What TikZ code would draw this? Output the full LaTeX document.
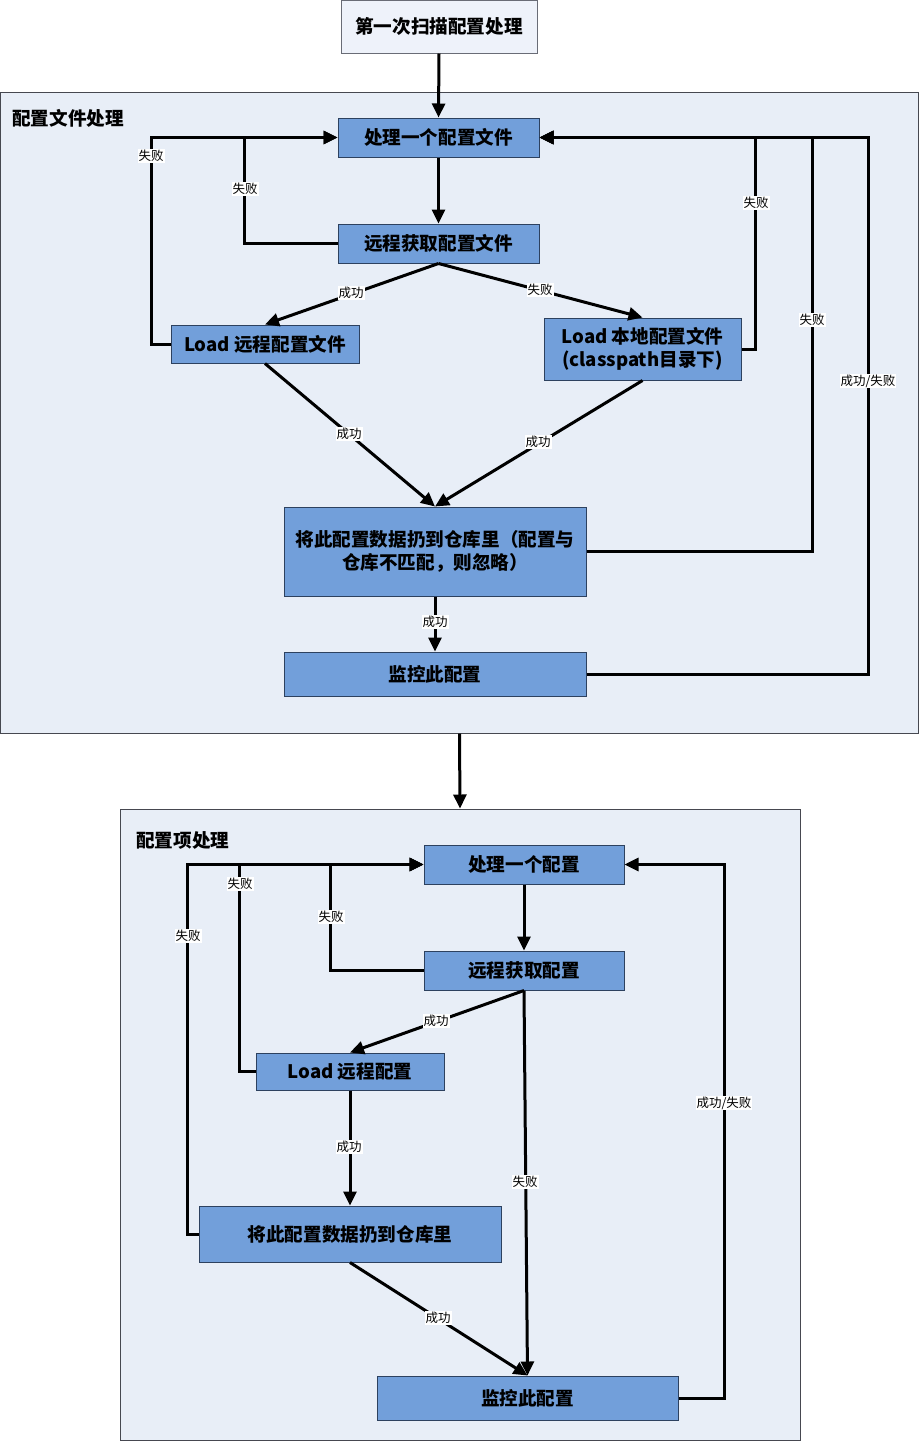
\documentclass[tikz,border=0pt]{standalone}
\usepackage{fontspec}
\setmainfont{Noto Sans CJK SC}
\usetikzlibrary{arrows.meta}
\definecolor{boxfill}{RGB}{114,159,218}
\definecolor{boxborder}{RGB}{45,65,95}
\definecolor{regionfill}{RGB}{232,238,247}
\definecolor{regionborder}{RGB}{70,72,80}
\definecolor{topfill}{RGB}{238,242,250}
\definecolor{topborder}{RGB}{105,108,118}
\tikzset{
  region/.style={draw=regionborder, fill=regionfill, line width=1pt, inner sep=0pt},
  stepbox/.style={draw=boxborder, fill=boxfill, line width=1pt, inner sep=0pt, align=center,
    font=\bfseries\fontsize{18.6}{23}\selectfont},
  topbox/.style={stepbox, draw=topborder, fill=topfill},
  ttl/.style={anchor=west, inner sep=0pt, font=\bfseries\fontsize{18.6}{22}\selectfont},
  lbl/.style={fill=white, inner sep=1pt, font=\fontsize{12.5}{14}\selectfont},
  ln/.style={line width=3pt},
  arr/.style={line width=3pt, -{Triangle[length=14pt,width=13pt]}}
}
\begin{document}
\begin{tikzpicture}[x=1pt,y=-1pt]
\useasboundingbox (0,0) rectangle (919,1441);
% regions
\node[region, minimum width=918pt, minimum height=641pt] (R1) at (459.5,412.5) {};
\node[region, minimum width=680pt, minimum height=631pt] (R2) at (460,1124.5) {};
\node[ttl] (t1) at (12,118) {配置文件处理};
\node[ttl] (t2) at (136,840) {配置项处理};
% top
\node[topbox, minimum width=196pt, minimum height=53pt] (top) at (439,26.5) {第一次扫描配置处理};
% section 1 boxes
\node[stepbox, minimum width=201pt, minimum height=39pt] (p1) at (438.5,137.5) {处理一个配置文件};
\node[stepbox, minimum width=201pt, minimum height=39pt] (r1) at (438.5,243.5) {远程获取配置文件};
\node[stepbox, minimum width=188pt, minimum height=38pt] (lr1) at (265,344) {Load 远程配置文件};
\node[stepbox, minimum width=197pt, minimum height=62pt] (ll1) at (642.5,349) {Load 本地配置文件\\(classpath目录下)};
\node[stepbox, minimum width=302pt, minimum height=89pt] (w1) at (435,551.5) {将此配置数据扔到仓库里（配置与\\仓库不匹配，则忽略）};
\node[stepbox, minimum width=302pt, minimum height=44pt] (m1) at (435,674) {监控此配置};
% section 2 boxes
\node[stepbox, minimum width=200pt, minimum height=39pt] (p2) at (524,864.5) {处理一个配置};
\node[stepbox, minimum width=200pt, minimum height=39pt] (r2) at (524,970.5) {远程获取配置};
\node[stepbox, minimum width=188pt, minimum height=37pt] (lr2) at (350,1071.5) {Load 远程配置};
\node[stepbox, minimum width=302pt, minimum height=56pt] (w2) at (350,1234) {将此配置数据扔到仓库里};
\node[stepbox, minimum width=301pt, minimum height=44pt] (m2) at (527.5,1398) {监控此配置};
% connectors section 1
\draw[arr] (top.south) -- (p1.north);
\draw[arr] (p1.south) -- (r1.north);
\draw[arr] (r1.west) -- ++(-93,0) |- (p1.west);
\draw[arr] (lr1.west) -- ++(-19,0) |- (p1.west);
\draw[arr] (r1.south) -- (lr1.north);
\draw[arr] (r1.south) -- (ll1.north);
\draw[arr] (ll1.east) -- ++(14,0) |- (p1.east);
\draw[arr] (lr1.south) -- (w1.north);
\draw[arr] (ll1.south) -- (w1.north);
\draw[arr] (w1.east) -- ++(226,0) |- (p1.east);
\draw[arr] (w1.south) -- (m1.north);
\draw[arr] (m1.east) -- ++(282,0) |- (p1.east);
\node[lbl] (l1) at (151,156) {失败};
\node[lbl] (l2) at (245,189) {失败};
\node[lbl] (l3) at (351,293) {成功};
\node[lbl] (l4) at (540,290) {失败};
\node[lbl] (l5) at (756,203) {失败};
\node[lbl] (l6) at (812,320) {失败};
\node[lbl] (l7) at (868,381) {成功/失败};
\node[lbl] (l8) at (349,434) {成功};
\node[lbl] (l9) at (538,442) {成功};
\node[lbl] (l10) at (435,622) {成功};
% between regions
\draw[arr] (R1.south) -- (R2.north);
% connectors section 2
\draw[arr] (p2.south) -- (r2.north);
\draw[arr] (r2.west) -- ++(-93,0) |- (p2.west);
\draw[arr] (lr2.west) -- ++(-16,0) |- (p2.west);
\draw[arr] (w2.west) -- ++(-11,0) |- (p2.west);
\draw[arr] (r2.south) -- (lr2.north);
\draw[arr] (r2.south) -- (m2.north);
\draw[arr] (lr2.south) -- (w2.north);
\draw[arr] (w2.south) -- (m2.north);
\draw[arr] (m2.east) -- ++(46,0) |- (p2.east);
\node[lbl] (k1) at (331,917) {失败};
\node[lbl] (k2) at (240,884) {失败};
\node[lbl] (k3) at (188,936) {失败};
\node[lbl] (k4) at (436,1021) {成功};
\node[lbl] (k5) at (525,1182) {失败};
\node[lbl] (k6) at (349,1147) {成功};
\node[lbl] (k7) at (438,1318) {成功};
\node[lbl] (k8) at (724,1103) {成功/失败};
\end{tikzpicture}
\end{document}
